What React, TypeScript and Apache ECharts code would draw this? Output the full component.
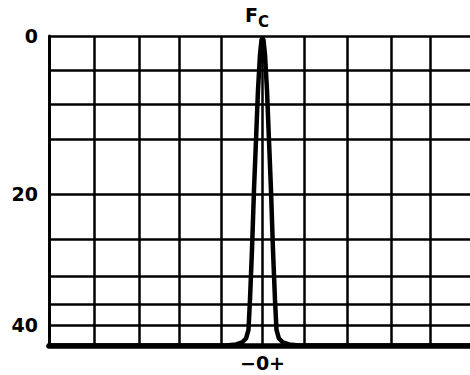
import React, { useEffect, useRef } from "react";
import * as echarts from "echarts";

// Frequency offset in grid divisions (0 = carrier Fc)
const curveX = [
  -5, -0.855, -0.62, -0.48, -0.386, -0.328, -0.293, -0.246, -0.199, -0.152, -0.105, -0.059, -0.023,
  0,
  0.023, 0.059, 0.105, 0.152, 0.199, 0.246, 0.293, 0.328, 0.386, 0.48, 0.62, 0.855, 4.86,
];
// Attenuation depth on the chart paper (0 = top of the scale)
const curveY = [
  43, 43, 42.86, 42.58, 42.03, 40.84, 36.68, 29.73, 21.39, 14.45, 7.5, 2.64, 0.56,
  0.28,
  0.56, 2.64, 7.5, 14.45, 21.39, 29.73, 36.68, 40.84, 42.03, 42.58, 42.86, 43, 43,
];

// Ruled lines of the chart paper
const yGridLines = [0, 4.82, 9.49, 14.35, 21.99, 28.24, 33.44, 37.23, 40.15];
const xGridLines = [-3.95, -2.89, -1.96, -0.97, 0, 0.97, 1.98, 3.01, 3.92];

// Labelled levels on the left scale
const yLabelRows = [0, 21.99, 40.15];
const yLabelTexts = ["0", "20", "40"];

// Labelled offset at the centre of the band
const xLabelValues = [0];
const xLabelTexts = ["\u22120+"];

const peakX = 0;
const peakY = 0.28;

const FONT = "DejaVu Sans";
const INK = "#000";

export default function App() {
  const ref = useRef<HTMLDivElement>(null);

  useEffect(() => {
    if (!ref.current) return;
    const chart = echarts.init(ref.current, null, { renderer: "svg" });
    const curveData = curveX.map((x, i) => [x, curveY[i]]);

    const peakLabel = (text: string, size: number, distance: number, dx: number) => ({
      coord: [peakX, peakY],
      label: {
        show: true,
        position: "top",
        distance,
        offset: [dx, 0],
        formatter: text,
        fontFamily: FONT,
        fontWeight: "bold",
        fontSize: size,
        color: INK,
      },
    });

    chart.setOption({
      animation: false,
      backgroundColor: "#fff",
      grid: { left: 49, right: 0, top: 36, bottom: 29.5, containLabel: false },
      xAxis: {
        type: "value",
        min: -5,
        max: 4.86,
        splitLine: { show: false },
        axisTick: { show: false },
        axisLine: { show: true, onZero: false, lineStyle: { color: INK, width: 5.5 } },
        axisLabel: {
          show: true,
          customValues: xLabelValues,
          margin: 8,
          color: INK,
          fontFamily: FONT,
          fontWeight: "bold",
          fontSize: 19,
          formatter: (v: number) => {
            const i = xLabelValues.findIndex((x) => Math.abs(x - v) < 1e-6);
            return i >= 0 ? xLabelTexts[i] : "";
          },
        },
      },
      yAxis: {
        type: "value",
        inverse: true,
        min: 0,
        max: 43,
        splitLine: { show: false },
        axisTick: { show: false },
        axisLine: { show: true, onZero: false, lineStyle: { color: INK, width: 3 } },
        axisLabel: {
          show: true,
          customValues: yLabelRows,
          margin: 11,
          color: INK,
          fontFamily: FONT,
          fontWeight: "bold",
          fontSize: 19,
          formatter: (v: number) => {
            const i = yLabelRows.findIndex((y) => Math.abs(y - v) < 1e-6);
            return i >= 0 ? yLabelTexts[i] : "";
          },
        },
      },
      series: [
        {
          type: "line",
          data: curveData,
          showSymbol: false,
          clip: false,
          silent: true,
          lineStyle: { color: INK, width: 4.5, join: "round", cap: "round" },
          z: 3,
          markLine: {
            silent: true,
            symbol: ["none", "none"],
            label: { show: false },
            emphasis: { disabled: true },
            lineStyle: { color: INK, width: 2.5, type: "solid" },
            data: [
              ...yGridLines.map((v) => ({ yAxis: v })),
              ...xGridLines.map((v) => ({ xAxis: v })),
            ],
          },
          markPoint: {
            silent: true,
            symbol: "circle",
            symbolSize: 1,
            itemStyle: { color: "rgba(0,0,0,0)" },
            data: [
              // carrier label: F with a lowered C
              peakLabel("F", 19, 13, -11),
              peakLabel("C", 15, 8, 1),
            ],
          },
        },
      ],
    });

    return () => chart.dispose();
  }, []);

  return (
    <div
      ref={ref}
      style={{ position: "fixed", left: 0, top: 0, width: 470, height: 375, background: "#fff" }}
    />
  );
}
